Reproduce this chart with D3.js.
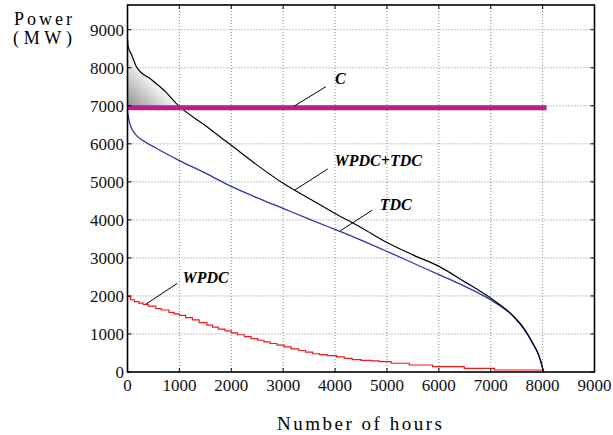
<!DOCTYPE html>
<html>
<head>
<meta charset="utf-8">
<script src="https://cdn.jsdelivr.net/npm/d3@7"></script>
<style>
  body { margin: 0; background: #fff; }
  svg { display: block; }
  text { font-family: 'Liberation Serif', 'Times New Roman', serif; }
</style>
</head>
<body>
<svg id="chart" width="613" height="435"></svg>
<script>
// duration curves (hours, MW)
const sumHours = [0, 12, 80, 180, 470, 726, 963, 1500, 2000, 2500, 3000, 3500, 4000, 4500, 5010, 5500, 6012, 6500, 7002, 7430, 7660, 7810, 7925, 7990, 8015];
const sumMW = [8740, 8560, 8340, 8010, 7680, 7380, 7030, 6480, 5960, 5440, 4960, 4560, 4170, 3800, 3400, 3080, 2771, 2370, 1939, 1480, 1110, 760, 450, 160, 0];

const tdcHours = [0, 40, 130, 320, 545, 1000, 1500, 2000, 2500, 3000, 3500, 3906, 4131, 4500, 5010, 5511, 6012, 6474, 7002, 7430, 7660, 7810, 7925, 7990, 8015];
const tdcMW = [6860, 6550, 6290, 6070, 5890, 5560, 5230, 4880, 4580, 4300, 4020, 3800, 3680, 3470, 3166, 2860, 2553, 2270, 1895, 1470, 1090, 745, 435, 145, 0];

const wpdcHours = [0, 60, 130, 220, 300, 400, 545, 650, 800, 900, 1000, 1120, 1250, 1380, 1530, 1640, 1750, 1880, 2000, 2120, 2250, 2380, 2510, 2630, 2750, 2880, 3020, 3150, 3300, 3430, 3570, 3700, 3850, 4030, 4180, 4330, 4500, 4700, 4855, 5080, 5430, 5880, 6490, 7070, 8020];
const wpdcMW = [1980, 1900, 1850, 1810, 1780, 1730, 1670, 1630, 1570, 1530, 1490, 1430, 1370, 1300, 1230, 1180, 1130, 1080, 1030, 980, 930, 880, 835, 790, 750, 705, 660, 610, 565, 520, 480, 455, 430, 400, 360, 325, 305, 290, 271, 230, 184, 140, 97, 53, 30];

const capacity = 6950;
const capacityEnd = 8077;

const xTicks = [0, 1000, 2000, 3000, 4000, 5000, 6000, 7000, 8000, 9000];
const yTicks = [0, 1000, 2000, 3000, 4000, 5000, 6000, 7000, 8000, 9000];

// labels: [text, hours, MW, leader from hours, MW, leader to hours, MW]
const labels = [
  ['C', 4000, 7560, 3210, 6990, 3820, 7500],
  ['WPDC+TDC', 3990, 5410, 3230, 4790, 3860, 5340],
  ['TDC', 4860, 4250, 4100, 3710, 4710, 4250],
  ['WPDC', 1060, 2330, 355, 1785, 960, 2330]
];

const svg = d3.select('#chart');
const plotLeft = 127.5, plotRight = 594.5, plotTop = 5, plotBottom = 372;

const x = d3.scaleLinear().domain([0, 9000]).range([plotLeft, plotRight]);
const y = d3.scaleLinear().domain([0, 9650]).range([plotBottom, plotTop]);

// grid
const grid = svg.append('g').attr('class', 'grid');
grid.selectAll('line.gx')
  .data(xTicks.slice(1, -1))
  .enter()
  .append('line')
  .attr('x1', d => x(d)).attr('x2', d => x(d))
  .attr('y1', plotTop).attr('y2', plotBottom)
  .attr('stroke', '#8a8a8a')
  .attr('stroke-width', 1)
  .attr('stroke-dasharray', '1,2');
grid.selectAll('line.gy')
  .data(yTicks.slice(1))
  .enter()
  .append('line')
  .attr('y1', d => y(d)).attr('y2', d => y(d))
  .attr('x1', plotLeft).attr('x2', plotRight)
  .attr('stroke', '#8a8a8a')
  .attr('stroke-width', 1)
  .attr('stroke-dasharray', '1,2');

// shaded region above capacity
const pts = sumHours.map((h, i) => ({ h, v: sumMW[i] }));
let fillPts = [];
for (let i = 0; i < pts.length; i++) {
  if (pts[i].v >= capacity) fillPts.push(pts[i]);
  else {
    const a = pts[i - 1], b = pts[i];
    const t = (a.v - capacity) / (a.v - b.v);
    fillPts.push({ h: a.h + t * (b.h - a.h), v: capacity });
    break;
  }
}

const defs = svg.append('defs');
const grad = defs.append('linearGradient')
  .attr('id', 'shade')
  .attr('gradientUnits', 'userSpaceOnUse')
  .attr('x1', x(520)).attr('y1', y(7620))
  .attr('x2', x(80)).attr('y2', y(7000));
grad.append('stop').attr('offset', 0).attr('stop-color', '#f6f6f6');
grad.append('stop').attr('offset', 1).attr('stop-color', '#9a9a9a');

svg.append('path')
  .datum(fillPts)
  .attr('fill', 'url(#shade)')
  .attr('d', d3.area().curve(d3.curveMonotoneX).x(d => x(d.h)).y0(y(capacity)).y1(d => y(d.v)));

// curves
const line = d3.line().curve(d3.curveMonotoneX).x(d => x(d.h)).y(d => y(d.v));

svg.append('path')
  .datum(wpdcHours.map((h, i) => ({ h, v: wpdcMW[i] })))
  .attr('fill', 'none')
  .attr('stroke', '#f01818')
  .attr('stroke-width', 1.2)
  .attr('d', d3.line().curve(d3.curveStepAfter).x(d => x(d.h)).y(d => y(d.v)));

svg.append('path')
  .datum(tdcHours.map((h, i) => ({ h, v: tdcMW[i] })))
  .attr('fill', 'none')
  .attr('stroke', '#2b36a6')
  .attr('stroke-width', 1.3)
  .attr('d', line);

svg.append('path')
  .datum(pts)
  .attr('fill', 'none')
  .attr('stroke', '#000')
  .attr('stroke-width', 1.2)
  .attr('d', line);

// capacity line
svg.append('line')
  .attr('x1', x(0)).attr('x2', x(capacityEnd))
  .attr('y1', y(capacity)).attr('y2', y(capacity))
  .attr('stroke', '#b81f8a')
  .attr('stroke-width', 5);

// frame
svg.append('rect')
  .attr('x', plotLeft).attr('y', plotTop)
  .attr('width', plotRight - plotLeft).attr('height', plotBottom - plotTop)
  .attr('fill', 'none')
  .attr('stroke', '#000')
  .attr('stroke-width', 1.6);

// inward ticks
const ticks = svg.append('g').attr('stroke', '#000').attr('stroke-width', 1);
xTicks.forEach(d => {
  ticks.append('line').attr('x1', x(d)).attr('x2', x(d)).attr('y1', plotBottom).attr('y2', plotBottom - 4);
  ticks.append('line').attr('x1', x(d)).attr('x2', x(d)).attr('y1', plotTop).attr('y2', plotTop + 4);
});
yTicks.forEach(d => {
  ticks.append('line').attr('y1', y(d)).attr('y2', y(d)).attr('x1', plotLeft).attr('x2', plotLeft + 4);
  ticks.append('line').attr('y1', y(d)).attr('y2', y(d)).attr('x1', plotRight).attr('x2', plotRight - 4);
});

// tick labels
svg.selectAll('text.xt')
  .data(xTicks)
  .enter()
  .append('text')
  .attr('x', d => x(d))
  .attr('y', 391)
  .attr('text-anchor', 'middle')
  .attr('font-size', 17)
  .attr('fill', '#111')
  .text(d => d);

svg.selectAll('text.yt')
  .data(yTicks)
  .enter()
  .append('text')
  .attr('x', 124)
  .attr('y', d => y(d) + 6)
  .attr('text-anchor', 'end')
  .attr('font-size', 17)
  .attr('fill', '#111')
  .text(d => d);

// axis titles
svg.append('text')
  .attr('x', 14).attr('y', 25)
  .attr('font-size', 18)
  .attr('textLength', 58).attr('lengthAdjust', 'spacing')
  .text('Power');
svg.append('text')
  .attr('x', 13).attr('y', 44)
  .attr('font-size', 18)
  .attr('textLength', 59).attr('lengthAdjust', 'spacing')
  .text('(MW)');
svg.append('text')
  .attr('x', 277).attr('y', 430)
  .attr('font-size', 19)
  .attr('textLength', 165).attr('lengthAdjust', 'spacing')
  .text('Number of hours');

// annotations
labels.forEach(([t, h, v, h1, v1, h2, v2]) => {
  svg.append('line')
    .attr('x1', x(h1)).attr('y1', y(v1))
    .attr('x2', x(h2)).attr('y2', y(v2))
    .attr('stroke', '#000')
    .attr('stroke-width', 1);
  svg.append('text')
    .attr('x', x(h)).attr('y', y(v))
    .attr('font-size', 16)
    .attr('font-weight', 700)
    .attr('font-style', 'italic')
    .text(t);
});
</script>
</body>
</html>
